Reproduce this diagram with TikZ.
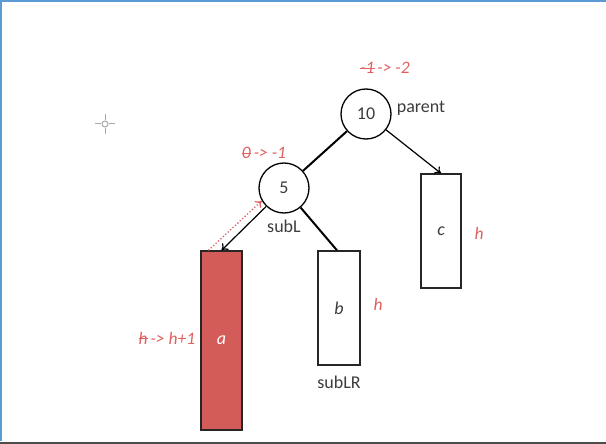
\documentclass[tikz,border=0pt]{standalone}
\usepackage{fontspec}
\setmainfont{Carlito}
\usetikzlibrary{arrows.meta,calc}
\definecolor{redfill}{RGB}{211,91,88}
\definecolor{redtxt}{RGB}{224,96,96}
\definecolor{frameblue}{RGB}{91,155,213}
\definecolor{txtgray}{RGB}{60,60,60}
\newcommand\mystrike[1]{\setbox0\hbox{#1}\rlap{\rule[0.28em]{\wd0}{0.8pt}}\box0}
\tikzset{
  treenode/.style={circle,draw=black,line width=1.3pt,minimum size=50pt,inner sep=0pt,font=\fontsize{18}{20}\selectfont,text=txtgray},
  subtree/.style={rectangle,draw=black!85,line width=1.3pt,inner sep=0pt,font=\fontsize{18}{20}\selectfont\itshape,text=txtgray},
  lbl/.style={font=\fontsize{18}{20}\selectfont,text=txtgray},
  redlbl/.style={font=\fontsize{17.5}{20}\selectfont\itshape,text=redtxt},
  thickedge/.style={line width=2pt,black},
  arrowedge/.style={line width=1.2pt,black,-{To[length=6pt,width=9pt,line width=1.2pt]}},
  dotarrow/.style={line width=1.3pt,redtxt,dotted,-{To[length=6pt,width=9pt,line width=1.2pt]}}
}
\begin{document}
\begin{tikzpicture}[x=1pt,y=-1pt]
\useasboundingbox (0,0) rectangle (606,444);
% frame
\draw[frameblue,line width=2.2pt] (0,1) -- (606,1);
\draw[frameblue,line width=2.2pt] (1,0) -- (1,441);
\draw[black!70,line width=2pt] (0,443) -- (606,443);
% crosshair
\begin{scope}[gray!70,line width=1pt]
\draw (105,124) circle (3);
\draw (105,114) -- (105,120) (105,128) -- (105,134) (95,124) -- (101,124) (109,124) -- (115,124);
\end{scope}
% nodes
\node[treenode] (parent) at (366,114) {10};
\node[treenode] (subL) at (284,188) {5};
\node[subtree,minimum width=40pt,minimum height=114pt] (c) at (441,231) {c};
\node[subtree,fill=redfill,text=white,minimum width=41pt,minimum height=179pt] (a) at (221.5,340.5) {a};
\node[subtree,minimum width=42pt,minimum height=114pt] (b) at (339,308) {b};
% labels
\node[lbl] (parentlbl) at (421,108) {parent};
\node[lbl] (subLlbl) at (284,226) {subL};
\node[lbl] (subLRlbl) at (339,382) {subLR};
\node[redlbl] (bal1) at (385,68) {\mystrike{-1}\,-> -2};
\node[redlbl] (bal2) at (264,153) {\mystrike{0}\,-> -1};
\node[redlbl] (ha) at (167,338) {\mystrike{h}\,-> h+1};
\node[redlbl] (hb) at (378,304) {h};
\node[redlbl] (hc) at (479,233) {h};
% edges
\draw[thickedge] (parent) -- (subL);
\draw[arrowedge] (parent) -- (c.north);
\draw[arrowedge] (subL.226) -- (a.north);
\draw[thickedge] (subL) -- ($(b.north)+(-2,0)$);
\draw[dotarrow] ($(a.north west)+(8,0)$) -- (subL.210);
\end{tikzpicture}
\end{document}
